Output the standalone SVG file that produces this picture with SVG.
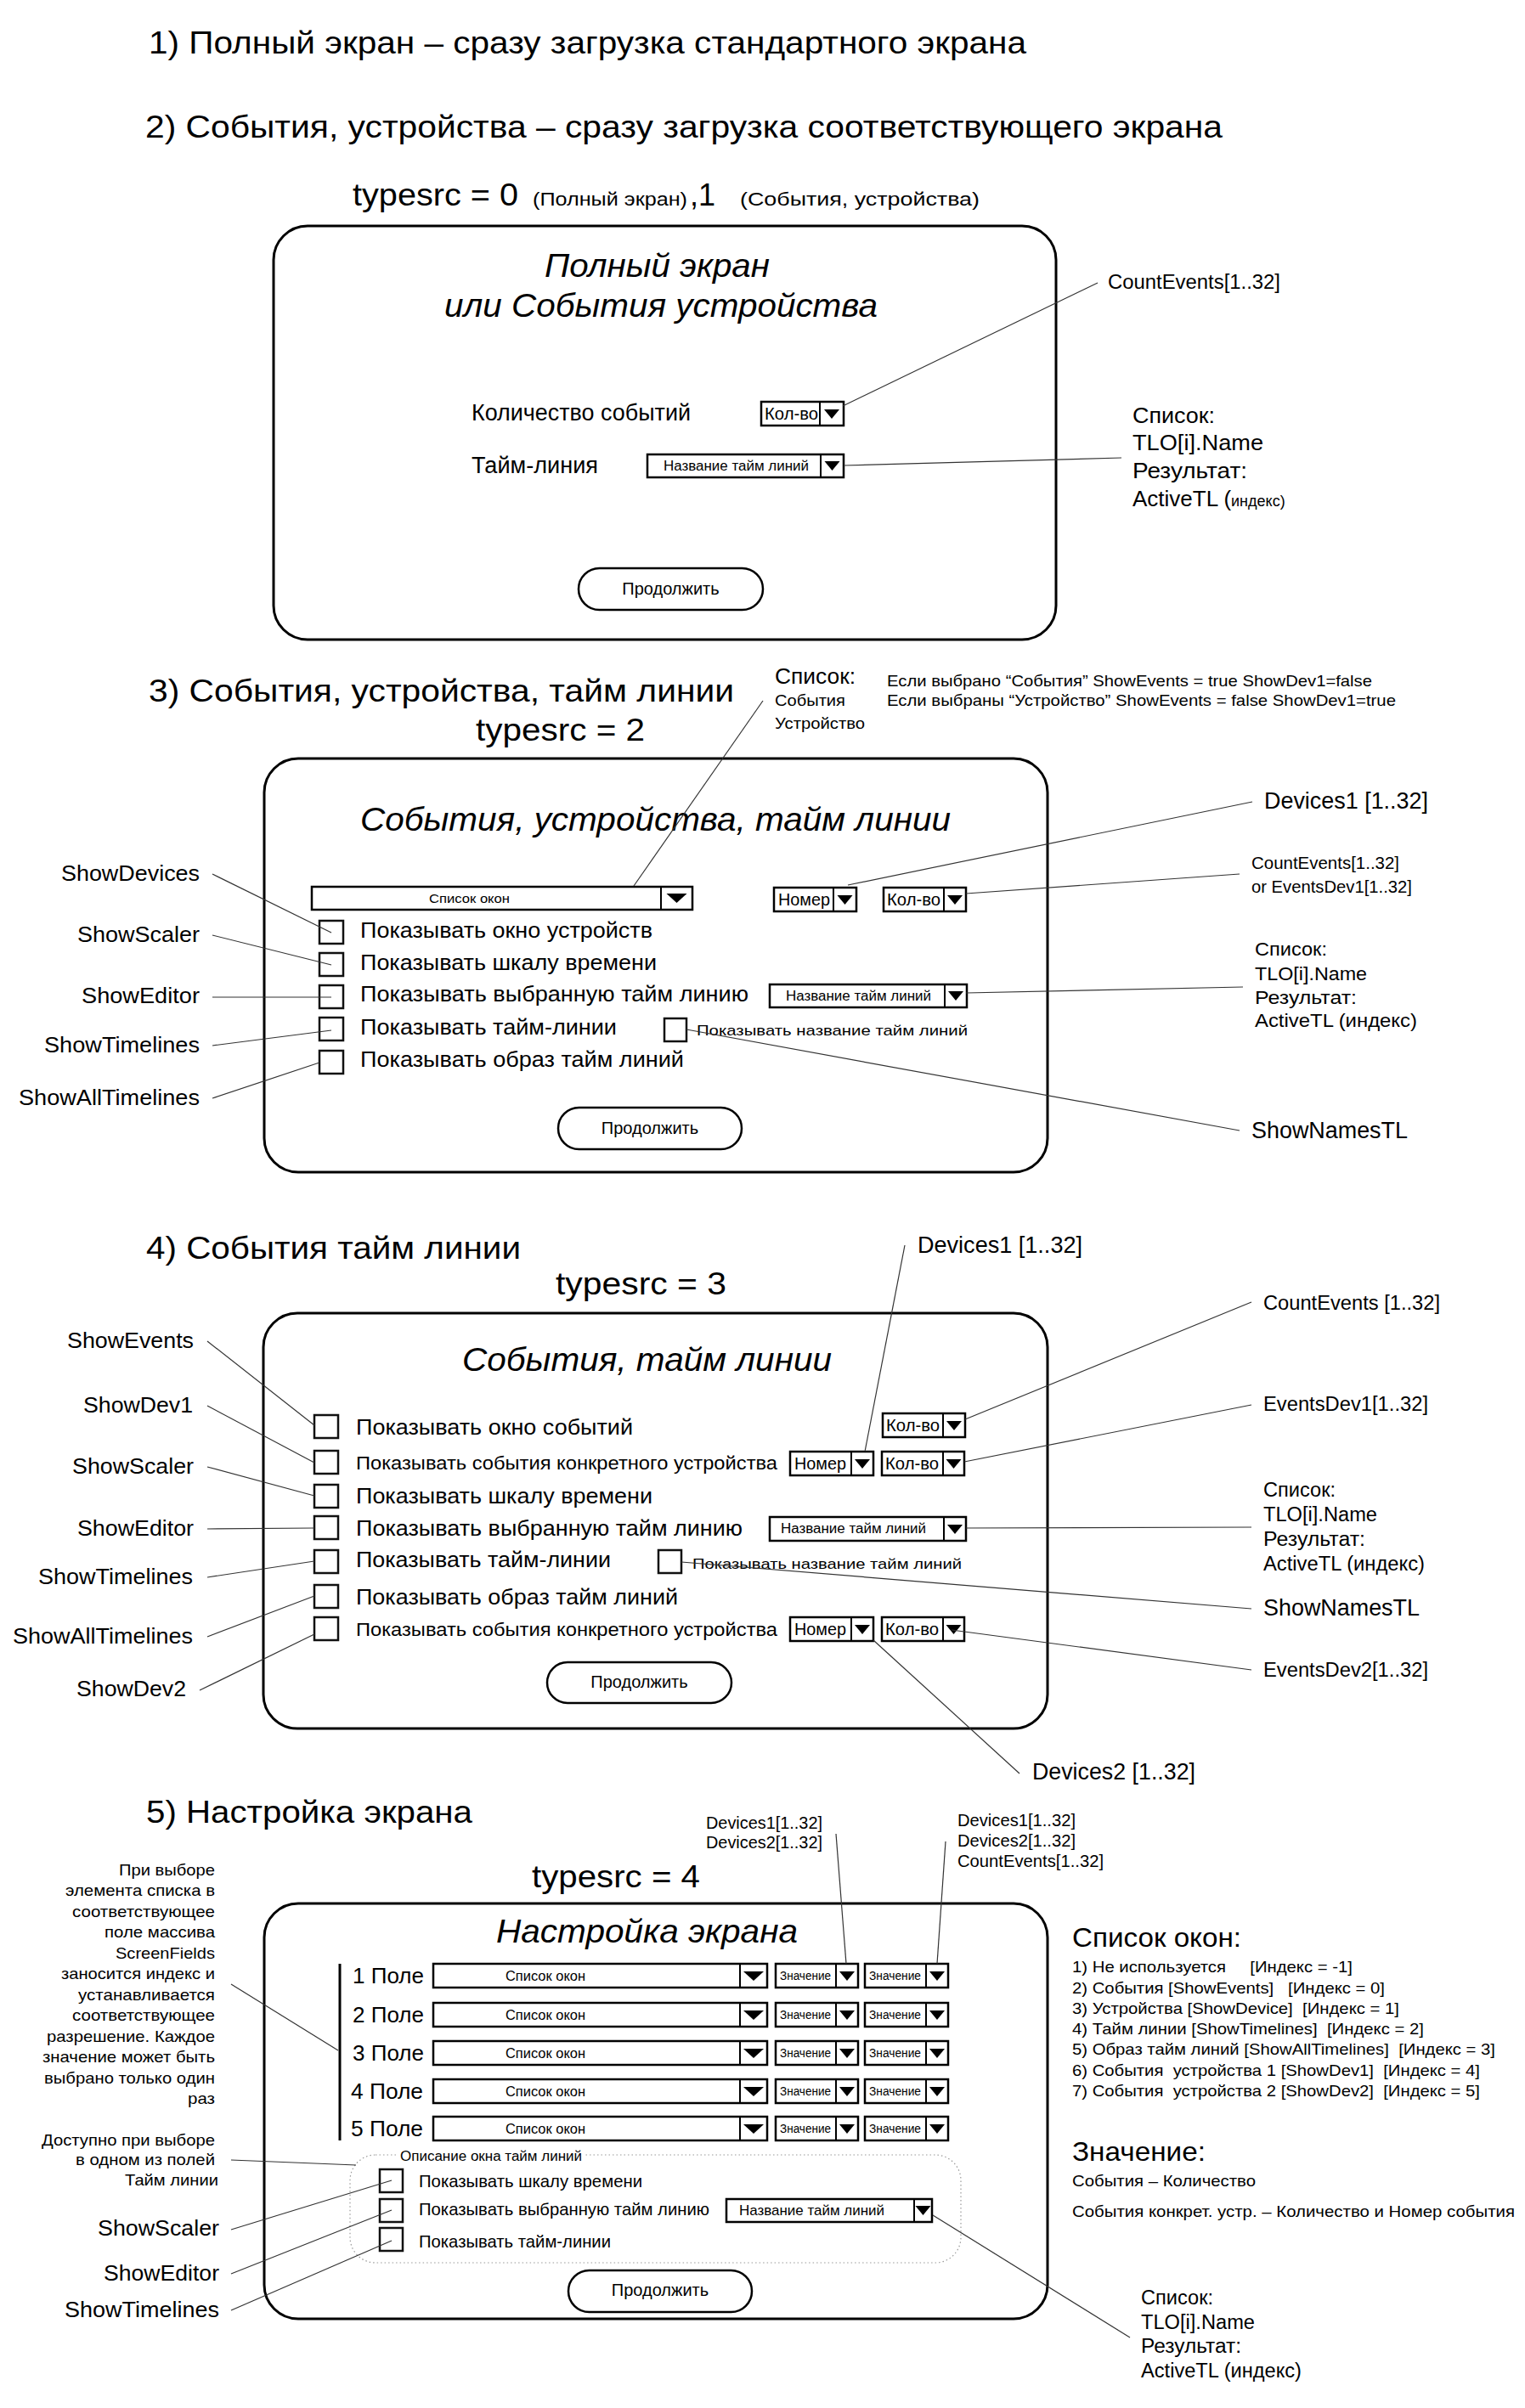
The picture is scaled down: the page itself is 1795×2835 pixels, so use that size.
<svg xmlns="http://www.w3.org/2000/svg" xmlns:xlink="http://www.w3.org/1999/xlink" width="1795" height="2835" viewBox="0 0 1795 2835">
<style>
text{font-family:"Liberation Sans",Arial,sans-serif;fill:#000}
.it{font-style:italic}
.frame{fill:#fff;stroke:#000;stroke-width:3}
.dd{fill:#fff;stroke:#000;stroke-width:2.5}
.div{stroke:#000;stroke-width:2}
.cb{fill:#fff;stroke:#111;stroke-width:2.5}
.btn{fill:#fff;stroke:#000;stroke-width:2.5}
.grp{fill:none;stroke:#999;stroke-width:1.2;stroke-dasharray:1.5 3}
#connectors line{stroke:#333;stroke-width:1.2}
</style>
<defs>
<path id="tri" d="M-9,0 L9,0 L0,11 Z" fill="#000"/>
<path id="triL" d="M-12,0 L12,0 L0,11 Z" fill="#000"/>
</defs>
<rect width="1795" height="2835" fill="#fff"/>

<!-- Headings -->
<g id="headings">
<text x="175" y="63" font-size="37" textLength="1033" lengthAdjust="spacingAndGlyphs">1) Полный экран – сразу загрузка стандартного экрана</text>
<text x="171" y="162" font-size="37" textLength="1268" lengthAdjust="spacingAndGlyphs">2) События, устройства – сразу загрузка соответствующего экрана</text>
<text x="415" y="242" font-size="36" textLength="195" lengthAdjust="spacingAndGlyphs">typesrc = 0</text>
<text x="627" y="242" font-size="22" textLength="182" lengthAdjust="spacingAndGlyphs">(Полный экран)</text>
<text x="812" y="242" font-size="36">,1</text>
<text x="871" y="242" font-size="22" textLength="282" lengthAdjust="spacingAndGlyphs">(События, устройства)</text>
<text x="175" y="826" font-size="37" textLength="689" lengthAdjust="spacingAndGlyphs">3) События, устройства, тайм линии</text>
<text x="560" y="872" font-size="36" textLength="199" lengthAdjust="spacingAndGlyphs">typesrc = 2</text>
<text x="172" y="1482" font-size="37" textLength="441" lengthAdjust="spacingAndGlyphs">4) События тайм линии</text>
<text x="654" y="1524" font-size="36" textLength="201" lengthAdjust="spacingAndGlyphs">typesrc = 3</text>
<text x="172" y="2146" font-size="37" textLength="384" lengthAdjust="spacingAndGlyphs">5) Настройка экрана</text>
<text x="626" y="2222" font-size="36" textLength="198" lengthAdjust="spacingAndGlyphs">typesrc = 4</text>
</g>

<!-- Section 1 -->
<g id="screen1">
<rect class="frame" x="322" y="266" width="921" height="487" rx="40"/>
<text class="it" x="641" y="326" font-size="38" textLength="265" lengthAdjust="spacingAndGlyphs">Полный экран</text>
<text class="it" x="523" y="373" font-size="38" textLength="510" lengthAdjust="spacingAndGlyphs">или События устройства</text>
<text x="555" y="495" font-size="27" textLength="258" lengthAdjust="spacingAndGlyphs">Количество событий</text>
<text x="555" y="557" font-size="27" textLength="149" lengthAdjust="spacingAndGlyphs">Тайм-линия</text>
</g>
<g id="s1-count">
<rect class="dd" x="896" y="473" width="97" height="28"/><line class="div" x1="965" y1="473" x2="965" y2="501"/><use href="#tri" x="979" y="482"/>
<text x="900" y="494" font-size="20" textLength="63" lengthAdjust="spacingAndGlyphs">Кол-во</text>
</g>
<g id="s1-tl">
<rect class="dd" x="762" y="535" width="231" height="27"/><line class="div" x1="966" y1="535" x2="966" y2="562"/><use href="#tri" x="979.5" y="543"/>
<text x="781" y="554" font-size="16" textLength="171" lengthAdjust="spacingAndGlyphs">Название тайм линий</text>
</g>
<g id="s1-btn">
<rect class="btn" x="681" y="669" width="217" height="49" rx="24.5"/>
<text x="789.5" y="700" font-size="20" text-anchor="middle">Продолжить</text>
</g>
<g id="s1-labels">
<text x="1304" y="340" font-size="23" textLength="203" lengthAdjust="spacingAndGlyphs">CountEvents[1..32]</text>
<text x="1333" y="498" font-size="26" textLength="97" lengthAdjust="spacingAndGlyphs">Список:</text>
<text x="1333" y="530" font-size="26" textLength="154" lengthAdjust="spacingAndGlyphs">TLO[i].Name</text>
<text x="1333" y="563" font-size="26" textLength="135" lengthAdjust="spacingAndGlyphs">Результат:</text>
<text x="1333" y="596" font-size="26">ActiveTL (<tspan font-size="18">индекс)</tspan></text>
</g>

<!-- Section 3 -->
<g id="screen3">
<rect class="frame" x="311" y="893" width="922" height="487" rx="40"/>
<text class="it" x="424" y="978" font-size="38" textLength="695" lengthAdjust="spacingAndGlyphs">События, устройства, тайм линии</text>
</g>
<g id="s3-list">
<rect class="dd" x="367" y="1044" width="448" height="27"/><line class="div" x1="778" y1="1044" x2="778" y2="1071"/><use href="#triL" x="796.5" y="1052"/>
<text x="505" y="1063" font-size="15" textLength="95" lengthAdjust="spacingAndGlyphs">Список окон</text>
</g>
<g id="s3-num">
<rect class="dd" x="911" y="1045" width="97" height="28"/><line class="div" x1="981" y1="1045" x2="981" y2="1073"/><use href="#tri" x="994.5" y="1054"/>
<text x="916" y="1066" font-size="20" textLength="61" lengthAdjust="spacingAndGlyphs">Номер</text>
</g>
<g id="s3-count">
<rect class="dd" x="1040" y="1045" width="97" height="28"/><line class="div" x1="1111" y1="1045" x2="1111" y2="1073"/><use href="#tri" x="1124" y="1054"/>
<text x="1044" y="1066" font-size="20" textLength="63" lengthAdjust="spacingAndGlyphs">Кол-во</text>
</g>
<g id="s3-checks">
<rect class="cb" x="376" y="1084" width="28" height="27"/>
<rect class="cb" x="376" y="1122" width="28" height="27"/>
<rect class="cb" x="376" y="1160" width="28" height="27"/>
<rect class="cb" x="376" y="1198" width="28" height="27"/>
<rect class="cb" x="376" y="1237" width="28" height="27"/>
<rect class="cb" x="782" y="1199" width="26" height="27"/>
<text x="424" y="1104" font-size="26" textLength="344" lengthAdjust="spacingAndGlyphs">Показывать окно устройств</text>
<text x="424" y="1142" font-size="26" textLength="349" lengthAdjust="spacingAndGlyphs">Показывать шкалу времени</text>
<text x="424" y="1179" font-size="26" textLength="457" lengthAdjust="spacingAndGlyphs">Показывать выбранную тайм линию</text>
<text x="424" y="1218" font-size="26" textLength="302" lengthAdjust="spacingAndGlyphs">Показывать тайм-линии</text>
<text x="424" y="1256" font-size="26" textLength="381" lengthAdjust="spacingAndGlyphs">Показывать образ тайм линий</text>
<text x="820" y="1219" font-size="17" textLength="319" lengthAdjust="spacingAndGlyphs">Показывать название тайм линий</text>
</g>
<g id="s3-tl">
<rect class="dd" x="906" y="1159" width="232" height="27"/><line class="div" x1="1112" y1="1159" x2="1112" y2="1186"/><use href="#tri" x="1125" y="1167"/>
<text x="925" y="1178" font-size="16" textLength="171" lengthAdjust="spacingAndGlyphs">Название тайм линий</text>
</g>
<g id="s3-btn">
<rect class="btn" x="657" y="1304" width="216" height="49" rx="24.5"/>
<text x="765" y="1335" font-size="20" text-anchor="middle">Продолжить</text>
</g>
<g id="s3-labels">
<text x="912" y="805" font-size="25" textLength="95" lengthAdjust="spacingAndGlyphs">Список:</text>
<text x="912" y="831" font-size="18" textLength="83" lengthAdjust="spacingAndGlyphs">События</text>
<text x="912" y="858" font-size="18" textLength="106" lengthAdjust="spacingAndGlyphs">Устройство</text>
<text x="1044" y="808" font-size="19" textLength="571" lengthAdjust="spacingAndGlyphs">Если выбрано “События” ShowEvents = true ShowDev1=false</text>
<text x="1044" y="831" font-size="19" textLength="599" lengthAdjust="spacingAndGlyphs">Если выбраны “Устройство” ShowEvents = false ShowDev1=true</text>
<text x="72" y="1037" font-size="26" textLength="163" lengthAdjust="spacingAndGlyphs">ShowDevices</text>
<text x="91" y="1109" font-size="26" textLength="144" lengthAdjust="spacingAndGlyphs">ShowScaler</text>
<text x="96" y="1181" font-size="26" textLength="139" lengthAdjust="spacingAndGlyphs">ShowEditor</text>
<text x="52" y="1239" font-size="26" textLength="183" lengthAdjust="spacingAndGlyphs">ShowTimelines</text>
<text x="22" y="1301" font-size="26" textLength="213" lengthAdjust="spacingAndGlyphs">ShowAllTimelines</text>
<text x="1488" y="952" font-size="27" textLength="193" lengthAdjust="spacingAndGlyphs">Devices1 [1..32]</text>
<text x="1473" y="1023" font-size="20" textLength="174" lengthAdjust="spacingAndGlyphs">CountEvents[1..32]</text>
<text x="1473" y="1051" font-size="20" textLength="189" lengthAdjust="spacingAndGlyphs">or EventsDev1[1..32]</text>
<text x="1477" y="1125" font-size="22.5" textLength="85" lengthAdjust="spacingAndGlyphs">Список:</text>
<text x="1477" y="1154" font-size="22.5" textLength="132" lengthAdjust="spacingAndGlyphs">TLO[i].Name</text>
<text x="1477" y="1182" font-size="22.5" textLength="120" lengthAdjust="spacingAndGlyphs">Результат:</text>
<text x="1477" y="1209" font-size="22.5" textLength="191" lengthAdjust="spacingAndGlyphs">ActiveTL (индекс)</text>
<text x="1473" y="1340" font-size="27" textLength="184" lengthAdjust="spacingAndGlyphs">ShowNamesTL</text>
</g>

<!-- Section 4 -->
<g id="screen4">
<rect class="frame" x="310" y="1546" width="923" height="489" rx="40"/>
<text class="it" x="544" y="1614" font-size="38" textLength="435" lengthAdjust="spacingAndGlyphs">События, тайм линии</text>
</g>
<g id="s4-checks">
<rect class="cb" x="370" y="1666" width="28" height="27"/>
<rect class="cb" x="370" y="1708" width="28" height="27"/>
<rect class="cb" x="370" y="1748" width="28" height="27"/>
<rect class="cb" x="370" y="1785" width="28" height="27"/>
<rect class="cb" x="370" y="1825" width="28" height="27"/>
<rect class="cb" x="370" y="1866" width="28" height="27"/>
<rect class="cb" x="370" y="1904" width="28" height="27"/>
<rect class="cb" x="775" y="1825" width="27" height="27"/>
<text x="419" y="1689" font-size="26" textLength="326" lengthAdjust="spacingAndGlyphs">Показывать окно событий</text>
<text x="419" y="1730" font-size="22" textLength="496" lengthAdjust="spacingAndGlyphs">Показывать события конкретного устройства</text>
<text x="419" y="1770" font-size="26" textLength="349" lengthAdjust="spacingAndGlyphs">Показывать шкалу времени</text>
<text x="419" y="1808" font-size="26" textLength="455" lengthAdjust="spacingAndGlyphs">Показывать выбранную тайм линию</text>
<text x="419" y="1845" font-size="26" textLength="300" lengthAdjust="spacingAndGlyphs">Показывать тайм-линии</text>
<text x="419" y="1889" font-size="26" textLength="379" lengthAdjust="spacingAndGlyphs">Показывать образ тайм линий</text>
<text x="419" y="1926" font-size="22" textLength="496" lengthAdjust="spacingAndGlyphs">Показывать события конкретного устройства</text>
<text x="815" y="1847" font-size="17" textLength="317" lengthAdjust="spacingAndGlyphs">Показывать название тайм линий</text>
</g>
<g id="s4-count1">
<rect class="dd" x="1039" y="1664" width="97" height="28"/><line class="div" x1="1110" y1="1664" x2="1110" y2="1692"/><use href="#tri" x="1123" y="1673"/>
<text x="1043" y="1685" font-size="20" textLength="63" lengthAdjust="spacingAndGlyphs">Кол-во</text>
</g>
<g id="s4-num1">
<rect class="dd" x="930" y="1709" width="98" height="28"/><line class="div" x1="1002" y1="1709" x2="1002" y2="1737"/><use href="#tri" x="1015" y="1718"/>
<text x="935" y="1730" font-size="20" textLength="61" lengthAdjust="spacingAndGlyphs">Номер</text>
</g>
<g id="s4-count2">
<rect class="dd" x="1038" y="1709" width="97" height="28"/><line class="div" x1="1110" y1="1709" x2="1110" y2="1737"/><use href="#tri" x="1122.5" y="1718"/>
<text x="1042" y="1730" font-size="20" textLength="63" lengthAdjust="spacingAndGlyphs">Кол-во</text>
</g>
<g id="s4-tl">
<rect class="dd" x="906" y="1786" width="231" height="28"/><line class="div" x1="1111" y1="1786" x2="1111" y2="1814"/><use href="#tri" x="1124" y="1795"/>
<text x="919" y="1805" font-size="16" textLength="171" lengthAdjust="spacingAndGlyphs">Название тайм линий</text>
</g>
<g id="s4-num2">
<rect class="dd" x="930" y="1904" width="98" height="28"/><line class="div" x1="1002" y1="1904" x2="1002" y2="1932"/><use href="#tri" x="1015" y="1913"/>
<text x="935" y="1925" font-size="20" textLength="61" lengthAdjust="spacingAndGlyphs">Номер</text>
</g>
<g id="s4-count3">
<rect class="dd" x="1038" y="1904" width="97" height="28"/><line class="div" x1="1110" y1="1904" x2="1110" y2="1932"/><use href="#tri" x="1122.5" y="1913"/>
<text x="1042" y="1925" font-size="20" textLength="63" lengthAdjust="spacingAndGlyphs">Кол-во</text>
</g>
<g id="s4-btn">
<rect class="btn" x="644" y="1957" width="217" height="48" rx="24"/>
<text x="752.5" y="1987" font-size="20" text-anchor="middle">Продолжить</text>
</g>
<g id="s4-labels">
<text x="79" y="1587" font-size="26" textLength="149" lengthAdjust="spacingAndGlyphs">ShowEvents</text>
<text x="98" y="1663" font-size="26" textLength="129" lengthAdjust="spacingAndGlyphs">ShowDev1</text>
<text x="85" y="1735" font-size="26" textLength="143" lengthAdjust="spacingAndGlyphs">ShowScaler</text>
<text x="91" y="1808" font-size="26" textLength="137" lengthAdjust="spacingAndGlyphs">ShowEditor</text>
<text x="45" y="1865" font-size="26" textLength="182" lengthAdjust="spacingAndGlyphs">ShowTimelines</text>
<text x="15" y="1935" font-size="26" textLength="212" lengthAdjust="spacingAndGlyphs">ShowAllTimelines</text>
<text x="90" y="1997" font-size="26" textLength="129" lengthAdjust="spacingAndGlyphs">ShowDev2</text>
<text x="1080" y="1475" font-size="27" textLength="194" lengthAdjust="spacingAndGlyphs">Devices1 [1..32]</text>
<text x="1487" y="1542" font-size="23" textLength="208" lengthAdjust="spacingAndGlyphs">CountEvents [1..32]</text>
<text x="1487" y="1661" font-size="23" textLength="194" lengthAdjust="spacingAndGlyphs">EventsDev1[1..32]</text>
<text x="1487" y="1762" font-size="23" textLength="85" lengthAdjust="spacingAndGlyphs">Список:</text>
<text x="1487" y="1791" font-size="23" textLength="134" lengthAdjust="spacingAndGlyphs">TLO[i].Name</text>
<text x="1487" y="1820" font-size="23" textLength="120" lengthAdjust="spacingAndGlyphs">Результат:</text>
<text x="1487" y="1849" font-size="23" textLength="190" lengthAdjust="spacingAndGlyphs">ActiveTL (индекс)</text>
<text x="1487" y="1902" font-size="27" textLength="184" lengthAdjust="spacingAndGlyphs">ShowNamesTL</text>
<text x="1487" y="1974" font-size="23" textLength="194" lengthAdjust="spacingAndGlyphs">EventsDev2[1..32]</text>
<text x="1215" y="2095" font-size="27" textLength="192" lengthAdjust="spacingAndGlyphs">Devices2 [1..32]</text>
</g>

<!-- Section 5 -->
<g id="screen5">
<rect class="frame" x="311" y="2241" width="922" height="489" rx="40"/>
<text class="it" x="584" y="2287" font-size="38" textLength="355" lengthAdjust="spacingAndGlyphs">Настройка экрана</text>
<line x1="400" y1="2312" x2="400" y2="2520" stroke="#000" stroke-width="3"/>
</g>
<g id="s5-row1">
<text x="415" y="2335" font-size="26" textLength="84" lengthAdjust="spacingAndGlyphs">1 Поле</text>
<rect class="dd" x="510" y="2312" width="393" height="28"/><line class="div" x1="871" y1="2312" x2="871" y2="2340"/><use href="#triL" x="887" y="2321"/>
<text x="595" y="2332" font-size="16" textLength="94" lengthAdjust="spacingAndGlyphs">Список окон</text>
<rect class="dd" x="913" y="2312" width="97" height="28"/><line class="div" x1="984" y1="2312" x2="984" y2="2340"/><use href="#tri" x="997" y="2321"/>
<text x="918" y="2331" font-size="14" textLength="60" lengthAdjust="spacingAndGlyphs">Значение</text>
<rect class="dd" x="1018" y="2312" width="98" height="28"/><line class="div" x1="1090" y1="2312" x2="1090" y2="2340"/><use href="#tri" x="1103" y="2321"/>
<text x="1023" y="2331" font-size="14" textLength="61" lengthAdjust="spacingAndGlyphs">Значение</text>
</g>
<g id="s5-row2">
<text x="415" y="2381" font-size="26" textLength="84" lengthAdjust="spacingAndGlyphs">2 Поле</text>
<rect class="dd" x="510" y="2358" width="393" height="28"/><line class="div" x1="871" y1="2358" x2="871" y2="2386"/><use href="#triL" x="887" y="2367"/>
<text x="595" y="2378" font-size="16" textLength="94" lengthAdjust="spacingAndGlyphs">Список окон</text>
<rect class="dd" x="913" y="2358" width="97" height="28"/><line class="div" x1="984" y1="2358" x2="984" y2="2386"/><use href="#tri" x="997" y="2367"/>
<text x="918" y="2377" font-size="14" textLength="60" lengthAdjust="spacingAndGlyphs">Значение</text>
<rect class="dd" x="1018" y="2358" width="98" height="28"/><line class="div" x1="1090" y1="2358" x2="1090" y2="2386"/><use href="#tri" x="1103" y="2367"/>
<text x="1023" y="2377" font-size="14" textLength="61" lengthAdjust="spacingAndGlyphs">Значение</text>
</g>
<g id="s5-row3">
<text x="415" y="2426" font-size="26" textLength="84" lengthAdjust="spacingAndGlyphs">3 Поле</text>
<rect class="dd" x="510" y="2403" width="393" height="28"/><line class="div" x1="871" y1="2403" x2="871" y2="2431"/><use href="#triL" x="887" y="2412"/>
<text x="595" y="2423" font-size="16" textLength="94" lengthAdjust="spacingAndGlyphs">Список окон</text>
<rect class="dd" x="913" y="2403" width="97" height="28"/><line class="div" x1="984" y1="2403" x2="984" y2="2431"/><use href="#tri" x="997" y="2412"/>
<text x="918" y="2422" font-size="14" textLength="60" lengthAdjust="spacingAndGlyphs">Значение</text>
<rect class="dd" x="1018" y="2403" width="98" height="28"/><line class="div" x1="1090" y1="2403" x2="1090" y2="2431"/><use href="#tri" x="1103" y="2412"/>
<text x="1023" y="2422" font-size="14" textLength="61" lengthAdjust="spacingAndGlyphs">Значение</text>
</g>
<g id="s5-row4">
<text x="413" y="2471" font-size="26" textLength="85" lengthAdjust="spacingAndGlyphs">4 Поле</text>
<rect class="dd" x="510" y="2448" width="393" height="28"/><line class="div" x1="871" y1="2448" x2="871" y2="2476"/><use href="#triL" x="887" y="2457"/>
<text x="595" y="2468" font-size="16" textLength="94" lengthAdjust="spacingAndGlyphs">Список окон</text>
<rect class="dd" x="913" y="2448" width="97" height="28"/><line class="div" x1="984" y1="2448" x2="984" y2="2476"/><use href="#tri" x="997" y="2457"/>
<text x="918" y="2467" font-size="14" textLength="60" lengthAdjust="spacingAndGlyphs">Значение</text>
<rect class="dd" x="1018" y="2448" width="98" height="28"/><line class="div" x1="1090" y1="2448" x2="1090" y2="2476"/><use href="#tri" x="1103" y="2457"/>
<text x="1023" y="2467" font-size="14" textLength="61" lengthAdjust="spacingAndGlyphs">Значение</text>
</g>
<g id="s5-row5">
<text x="413" y="2515" font-size="26" textLength="85" lengthAdjust="spacingAndGlyphs">5 Поле</text>
<rect class="dd" x="510" y="2492" width="393" height="28"/><line class="div" x1="871" y1="2492" x2="871" y2="2520"/><use href="#triL" x="887" y="2501"/>
<text x="595" y="2512" font-size="16" textLength="94" lengthAdjust="spacingAndGlyphs">Список окон</text>
<rect class="dd" x="913" y="2492" width="97" height="28"/><line class="div" x1="984" y1="2492" x2="984" y2="2520"/><use href="#tri" x="997" y="2501"/>
<text x="918" y="2511" font-size="14" textLength="60" lengthAdjust="spacingAndGlyphs">Значение</text>
<rect class="dd" x="1018" y="2492" width="98" height="28"/><line class="div" x1="1090" y1="2492" x2="1090" y2="2520"/><use href="#tri" x="1103" y="2501"/>
<text x="1023" y="2511" font-size="14" textLength="61" lengthAdjust="spacingAndGlyphs">Значение</text>
</g>
<g id="s5-group">
<rect class="grp" x="412" y="2537" width="719" height="127" rx="30"/>
<rect x="467" y="2529" width="222" height="17" fill="#fff"/>
<text x="471" y="2544" font-size="16" textLength="214" lengthAdjust="spacingAndGlyphs">Описание окна тайм линий</text>
<rect class="cb" x="447" y="2554" width="27" height="27"/>
<rect class="cb" x="447" y="2589" width="27" height="27"/>
<rect class="cb" x="447" y="2623" width="27" height="27"/>
<text x="493" y="2575" font-size="21" textLength="263" lengthAdjust="spacingAndGlyphs">Показывать шкалу времени</text>
<text x="493" y="2608" font-size="21" textLength="342" lengthAdjust="spacingAndGlyphs">Показывать выбранную тайм линию</text>
<text x="493" y="2646" font-size="21" textLength="226" lengthAdjust="spacingAndGlyphs">Показывать тайм-линии</text>
</g>
<g id="s5-tl">
<rect class="dd" x="855" y="2589" width="242" height="27"/><line class="div" x1="1076" y1="2589" x2="1076" y2="2616"/><use href="#tri" x="1086.5" y="2597"/>
<text x="870" y="2608" font-size="17" textLength="171" lengthAdjust="spacingAndGlyphs">Название тайм линий</text>
</g>
<g id="s5-btn">
<rect class="btn" x="669" y="2673" width="216" height="49" rx="24.5"/>
<text x="777" y="2703" font-size="20" text-anchor="middle">Продолжить</text>
</g>
<g id="s5-labels">
<text x="831" y="2153" font-size="20" textLength="137" lengthAdjust="spacingAndGlyphs">Devices1[1..32]</text>
<text x="831" y="2176" font-size="20" textLength="137" lengthAdjust="spacingAndGlyphs">Devices2[1..32]</text>
<text x="1127" y="2150" font-size="20" textLength="139" lengthAdjust="spacingAndGlyphs">Devices1[1..32]</text>
<text x="1127" y="2174" font-size="20" textLength="139" lengthAdjust="spacingAndGlyphs">Devices2[1..32]</text>
<text x="1127" y="2198" font-size="20" textLength="172" lengthAdjust="spacingAndGlyphs">CountEvents[1..32]</text>
<text x="1262" y="2292" font-size="32" textLength="199" lengthAdjust="spacingAndGlyphs">Список окон:</text>
<text x="1262" y="2322" font-size="19" xml:space="preserve" textLength="330" lengthAdjust="spacingAndGlyphs">1) Не используется     [Индекс = -1]</text>
<text x="1262" y="2347" font-size="19" xml:space="preserve" textLength="368" lengthAdjust="spacingAndGlyphs">2) События [ShowEvents]   [Индекс = 0]</text>
<text x="1262" y="2371" font-size="19" xml:space="preserve" textLength="385" lengthAdjust="spacingAndGlyphs">3) Устройства [ShowDevice]  [Индекс = 1]</text>
<text x="1262" y="2395" font-size="19" xml:space="preserve" textLength="414" lengthAdjust="spacingAndGlyphs">4) Тайм линии [ShowTimelines]  [Индекс = 2]</text>
<text x="1262" y="2419" font-size="19" xml:space="preserve" textLength="498" lengthAdjust="spacingAndGlyphs">5) Образ тайм линий [ShowAllTimelines]  [Индекс = 3]</text>
<text x="1262" y="2444" font-size="19" xml:space="preserve" textLength="480" lengthAdjust="spacingAndGlyphs">6) События  устройства 1 [ShowDev1]  [Индекс = 4]</text>
<text x="1262" y="2468" font-size="19" xml:space="preserve" textLength="480" lengthAdjust="spacingAndGlyphs">7) События  устройства 2 [ShowDev2]  [Индекс = 5]</text>
<text x="1262" y="2544" font-size="32" textLength="157" lengthAdjust="spacingAndGlyphs">Значение:</text>
<text x="1262" y="2574" font-size="19" textLength="216" lengthAdjust="spacingAndGlyphs">События – Количество</text>
<text x="1262" y="2610" font-size="19" textLength="521" lengthAdjust="spacingAndGlyphs">События конкрет. устр. – Количество и Номер события</text>
<text x="1343" y="2713" font-size="23" textLength="85" lengthAdjust="spacingAndGlyphs">Список:</text>
<text x="1343" y="2742" font-size="23" textLength="134" lengthAdjust="spacingAndGlyphs">TLO[i].Name</text>
<text x="1343" y="2770" font-size="23" textLength="118" lengthAdjust="spacingAndGlyphs">Результат:</text>
<text x="1343" y="2799" font-size="23" textLength="189" lengthAdjust="spacingAndGlyphs">ActiveTL (индекс)</text>
<text x="140" y="2208" font-size="19" textLength="113" lengthAdjust="spacingAndGlyphs">При выборе</text>
<text x="77" y="2232" font-size="19" textLength="176" lengthAdjust="spacingAndGlyphs">элемента списка в</text>
<text x="85" y="2257" font-size="19" textLength="168" lengthAdjust="spacingAndGlyphs">соответствующее</text>
<text x="123" y="2281" font-size="19" textLength="130" lengthAdjust="spacingAndGlyphs">поле массива</text>
<text x="136" y="2306" font-size="19" textLength="117" lengthAdjust="spacingAndGlyphs">ScreenFields</text>
<text x="72" y="2330" font-size="19" textLength="181" lengthAdjust="spacingAndGlyphs">заносится индекс и</text>
<text x="92" y="2355" font-size="19" textLength="161" lengthAdjust="spacingAndGlyphs">устанавливается</text>
<text x="85" y="2379" font-size="19" textLength="168" lengthAdjust="spacingAndGlyphs">соответствующее</text>
<text x="55" y="2404" font-size="19" textLength="198" lengthAdjust="spacingAndGlyphs">разрешение. Каждое</text>
<text x="50" y="2428" font-size="19" textLength="203" lengthAdjust="spacingAndGlyphs">значение может быть</text>
<text x="52" y="2453" font-size="19" textLength="201" lengthAdjust="spacingAndGlyphs">выбрано только один</text>
<text x="221" y="2477" font-size="19" textLength="32" lengthAdjust="spacingAndGlyphs">раз</text>
<text x="49" y="2526" font-size="19" textLength="204" lengthAdjust="spacingAndGlyphs">Доступно при выборе</text>
<text x="89" y="2549" font-size="19" textLength="164" lengthAdjust="spacingAndGlyphs">в одном из полей</text>
<text x="147" y="2573" font-size="19" textLength="110" lengthAdjust="spacingAndGlyphs">Тайм линии</text>
<text x="115" y="2632" font-size="26" textLength="143" lengthAdjust="spacingAndGlyphs">ShowScaler</text>
<text x="122" y="2685" font-size="26" textLength="136" lengthAdjust="spacingAndGlyphs">ShowEditor</text>
<text x="76" y="2728" font-size="26" textLength="182" lengthAdjust="spacingAndGlyphs">ShowTimelines</text>
</g>

<g id="connectors">
<line x1="992" y1="478" x2="1292" y2="333"/>
<line x1="993" y1="548" x2="1320" y2="539"/>
<line x1="746" y1="1043" x2="898" y2="825"/>
<line x1="250" y1="1029" x2="390" y2="1098"/>
<line x1="250" y1="1101" x2="390" y2="1136"/>
<line x1="250" y1="1174" x2="390" y2="1174"/>
<line x1="250" y1="1231" x2="390" y2="1213"/>
<line x1="250" y1="1293" x2="376" y2="1251"/>
<line x1="998" y1="1042" x2="1474" y2="944"/>
<line x1="1137" y1="1052" x2="1459" y2="1029"/>
<line x1="1137" y1="1169" x2="1463" y2="1162"/>
<line x1="808" y1="1212" x2="1459" y2="1331"/>
<line x1="244" y1="1579" x2="370" y2="1678"/>
<line x1="244" y1="1655" x2="370" y2="1722"/>
<line x1="244" y1="1727" x2="370" y2="1761"/>
<line x1="244" y1="1800" x2="370" y2="1799"/>
<line x1="244" y1="1857" x2="370" y2="1838"/>
<line x1="244" y1="1927" x2="370" y2="1879"/>
<line x1="235" y1="1990" x2="370" y2="1924"/>
<line x1="1018" y1="1709" x2="1065" y2="1466"/>
<line x1="1136" y1="1671" x2="1473" y2="1533"/>
<line x1="1135" y1="1721" x2="1473" y2="1654"/>
<line x1="1137" y1="1799" x2="1473" y2="1798"/>
<line x1="802" y1="1839" x2="1473" y2="1894"/>
<line x1="1120" y1="1919" x2="1473" y2="1966"/>
<line x1="1028" y1="1931" x2="1200" y2="2088"/>
<line x1="984" y1="2159" x2="996" y2="2312"/>
<line x1="1113" y1="2168" x2="1103" y2="2312"/>
<line x1="272" y1="2336" x2="398" y2="2414"/>
<line x1="272" y1="2543" x2="419" y2="2549"/>
<line x1="272" y1="2625" x2="461" y2="2567"/>
<line x1="272" y1="2677" x2="461" y2="2602"/>
<line x1="272" y1="2720" x2="461" y2="2638"/>
<line x1="1098" y1="2608" x2="1330" y2="2752"/>
</g>
</svg>
